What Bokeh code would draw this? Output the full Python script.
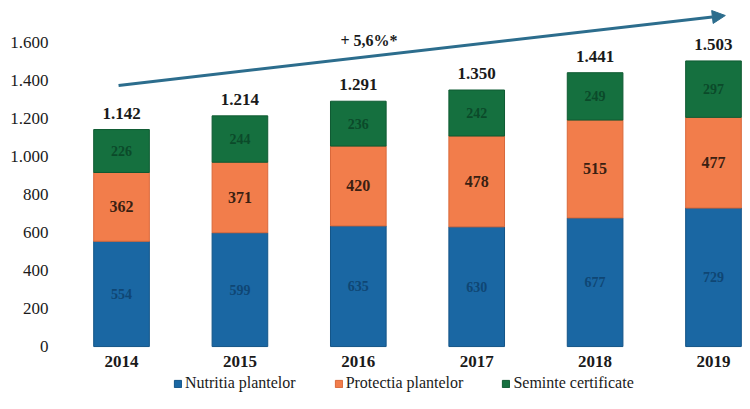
from bokeh.plotting import figure
from bokeh.models import (ColumnDataSource, Range1d, FixedTicker, LabelSet, Legend,
                          LegendItem, Arrow, NormalHead, Label)
from bokeh.core.properties import value
from bokeh.embed import file_html
from bokeh.resources import INLINE

# ---- data ----
years = ["2014", "2015", "2016", "2017", "2018", "2019"]
nutritia = [554, 599, 635, 630, 677, 729]
protectia = [362, 371, 420, 478, 515, 477]
seminte = [226, 244, 236, 242, 249, 297]
totals = [1142, 1214, 1291, 1350, 1441, 1503]
series_names = ["Nutritia plantelor", "Protectia plantelor", "Seminte certificate"]
y_ticks = [0, 200, 400, 600, 800, 1000, 1200, 1400, 1600]
growth_label = "+ 5,6%*"

def fmt(v):
    return f"{v:,}".replace(",", ".")

colors = ["#1a67a3", "#f27d4b", "#15703f"]
edge_colors = ["#135487", "#d9683a", "#0f5a32"]
FONT = "Liberation Serif"

x = list(range(len(years)))
n_mid = [n / 2 for n in nutritia]
p_mid = [n + pr / 2 for n, pr in zip(nutritia, protectia)]
s_mid = [n + pr + s / 2 for n, pr, s in zip(nutritia, protectia, seminte)]

src = ColumnDataSource(dict(
    x=x, n=nutritia, p=protectia, s=seminte, tot=totals, base=[0] * len(years),
    year=years, tot_lbl=[fmt(t) for t in totals],
    n_lbl=[str(v) for v in nutritia], p_lbl=[str(v) for v in protectia],
    s_lbl=[str(v) for v in seminte],
    n_mid=n_mid, p_mid=p_mid, s_mid=s_mid,
))

p = figure(width=742, height=393, x_range=Range1d(-0.583, 5.245), y_range=Range1d(-247, 1821),
           output_backend="svg", toolbar_location=None,
           min_border_left=52, min_border_right=0, min_border_top=0, min_border_bottom=0)
p.outline_line_color = None
p.grid.visible = False
p.background_fill_color = "white"

rs = p.vbar_stack(["n", "p", "s"], x="x", width=0.47, source=src,
                  fill_color=colors, line_color=edge_colors, line_width=1)

# axes
p.yaxis.ticker = FixedTicker(ticks=y_ticks)
p.yaxis.major_label_overrides = {t: fmt(t) for t in y_ticks}
p.yaxis.axis_line_color = None
p.yaxis.major_tick_line_color = None
p.yaxis.minor_tick_line_color = None
p.yaxis.major_tick_in = 0
p.yaxis.major_tick_out = 0
p.yaxis.major_label_standoff = 4
p.yaxis.major_label_text_font = FONT
p.yaxis.major_label_text_font_size = "17px"
p.yaxis.major_label_text_color = "#1a1a1a"
p.xaxis.visible = False

# category labels under the bars
p.add_layout(LabelSet(x="x", y="base", text="year", source=src, y_offset=-9,
                      text_align="center", text_baseline="top", text_font=value(FONT),
                      text_font_style="bold", text_font_size="17px", text_color="#1a1a1a"))

# value labels
p.add_layout(LabelSet(x="x", y="tot", text="tot_lbl", source=src, y_offset=11,
                      text_align="center", text_baseline="bottom", text_font=value(FONT),
                      text_font_style="bold", text_font_size="17px", text_color="#1a1a1a"))
p.add_layout(LabelSet(x="x", y="p_mid", text="p_lbl", source=src,
                      text_align="center", text_baseline="middle", text_font=value(FONT),
                      text_font_style="bold", text_font_size="16px", text_color="#3a1f12"))
p.add_layout(LabelSet(x="x", y="n_mid", text="n_lbl", source=src,
                      text_align="center", text_baseline="middle", text_font=value(FONT),
                      text_font_style="bold", text_font_size="14px", text_color="#0f4674"))
p.add_layout(LabelSet(x="x", y="s_mid", text="s_lbl", source=src,
                      text_align="center", text_baseline="middle", text_font=value(FONT),
                      text_font_style="bold", text_font_size="14px", text_color="#0b4a2a"))

# growth arrow
arrow_col = "#2c6d8d"
p.add_layout(Arrow(end=NormalHead(size=13, fill_color=arrow_col, line_color=arrow_col),
                   x_start=-0.025, y_start=1374, x_end=5.1, y_end=1742,
                   line_color=arrow_col, line_width=3))
p.add_layout(Label(x=2.09, y=1611, text=growth_label, text_align="center",
                   text_baseline="middle", text_font=FONT, text_font_style="bold",
                   text_font_size="16px", text_color="#1a1a1a"))

legend = Legend(items=[LegendItem(label=series_names[i], renderers=[rs[i]]) for i in range(3)],
                orientation="horizontal", location=(121, 1),
                border_line_color=None, background_fill_alpha=0,
                padding=1, margin=0, spacing=38, glyph_width=9, glyph_height=9,
                label_standoff=3, label_height=16, label_text_color="#1a1a1a")
legend.label_text_font = FONT
legend.label_text_font_size = "16px"
p.add_layout(legend, "center")

open("out.html", "w").write(file_html(p, INLINE))
